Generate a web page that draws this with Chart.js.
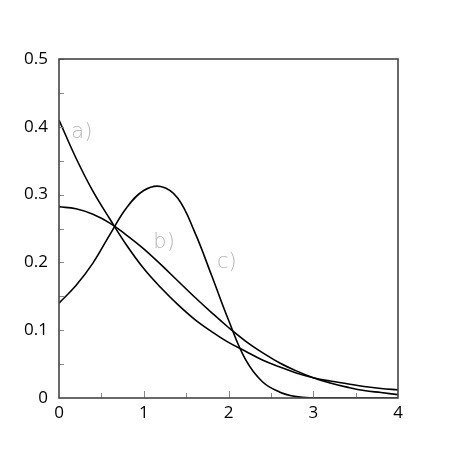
<!DOCTYPE html>
<html>
<head>
<meta charset="utf-8">
<script src="https://cdn.jsdelivr.net/npm/chart.js@4"></script>
<style>
  html, body { margin: 0; padding: 0; background: #fff; }
  #wrap { width: 457px; height: 457px; }
</style>
</head>
<body>
<div id="wrap"><canvas id="chart" width="457" height="457"></canvas></div>
<script>
// x positions shared by all three curves
const xValues = [0, 0.2, 0.4, 0.6, 0.8, 1.0, 1.2, 1.4, 1.6, 1.8, 2.0,
                 2.2, 2.4, 2.6, 2.8, 3.0, 3.2, 3.4, 3.6, 3.8, 4.0];

const curveA = [0.410, 0.354, 0.305, 0.264, 0.225, 0.191, 0.163, 0.138, 0.116, 0.098, 0.082,
                0.069, 0.056, 0.046, 0.037, 0.030, 0.025, 0.021, 0.017, 0.014, 0.012];
const curveB = [0.282, 0.279, 0.271, 0.258, 0.240, 0.220, 0.197, 0.173, 0.149, 0.126, 0.104,
                0.084, 0.067, 0.052, 0.040, 0.030, 0.022, 0.016, 0.011, 0.008, 0.005];
const curveC = [0.140, 0.166, 0.199, 0.241, 0.281, 0.306, 0.312, 0.295, 0.245, 0.181, 0.115,
                0.057, 0.024, 0.009, 0.002, 0.000, 0.000, 0.000, 0.000, 0.000, 0.000];

const curveLabels = ["a)", "b)", "c)"];
const labelX = [0.27, 1.24, 1.98];
const labelY = [0.391, 0.230, 0.200];

const xTicks = [0, 1, 2, 3, 4];
const yTicks = [0, 0.1, 0.2, 0.3, 0.4, 0.5];

const toPoints = ys => xValues.map((x, i) => ({ x, y: ys[i] }));

const lineStyle = {
    borderColor: "#000",
    borderWidth: 1.6,
    pointRadius: 0,
    fill: false,
    tension: 0.4
};

// frame, inner ticks and curve names
const decorations = {
    id: "decorations",
    afterDatasetsDraw(chart) {
        const { ctx, chartArea: a, scales: { x, y } } = chart;
        ctx.save();
        ctx.strokeStyle = "#888";
        ctx.lineWidth = 1;
        for (let v = 0.5; v < 4; v += 0.5) {
            const px = Math.round(x.getPixelForValue(v)) + 0.5;
            const len = Number.isInteger(v) ? 7 : 5;
            ctx.beginPath();
            ctx.moveTo(px, a.bottom);
            ctx.lineTo(px, a.bottom - len);
            ctx.stroke();
        }
        for (let v = 0.05; v < 0.5; v += 0.05) {
            const py = Math.round(y.getPixelForValue(v)) + 0.5;
            ctx.beginPath();
            ctx.moveTo(a.left, py);
            ctx.lineTo(a.left + 5, py);
            ctx.stroke();
        }
        ctx.strokeStyle = "#444";
        ctx.lineWidth = 1.6;
        ctx.strokeRect(a.left, a.top, a.right - a.left, a.bottom - a.top);

        ctx.fillStyle = "#b8b8b8";
        ctx.font = "200 21px 'DejaVu Sans'";
        ctx.textAlign = "center";
        ctx.textBaseline = "middle";
        curveLabels.forEach((t, i) => {
            ctx.fillText(t, x.getPixelForValue(labelX[i]), y.getPixelForValue(labelY[i]));
        });
        ctx.restore();
    }
};

new Chart(document.getElementById("chart"), {
    type: "line",
    data: {
        datasets: [
            { label: "a", data: toPoints(curveA), ...lineStyle },
            { label: "b", data: toPoints(curveB), ...lineStyle },
            { label: "c", data: toPoints(curveC), ...lineStyle }
        ]
    },
    options: {
        responsive: false,
        animation: false,
        layout: { padding: { top: 59, right: 59, left: 0, bottom: 0 } },
        plugins: { legend: { display: false }, tooltip: { enabled: false } },
        scales: {
            x: {
                type: "linear",
                min: 0, max: 4,
                afterBuildTicks: s => { s.ticks = xTicks.map(v => ({ value: v })); },
                afterFit: s => { s.height = 59; },
                grid: { display: false, drawTicks: false },
                border: { display: false },
                ticks: { color: "#000", padding: 5, font: { family: "'Open Sans'", size: 17 } }
            },
            y: {
                min: 0, max: 0.5,
                afterBuildTicks: s => { s.ticks = yTicks.map(v => ({ value: v })); },
                afterFit: s => { s.width = 59; },
                grid: { display: false, drawTicks: false },
                border: { display: false },
                ticks: {
                    color: "#000", padding: 11,
                    font: { family: "'Open Sans'", size: 17 },
                    callback: v => String(+v.toFixed(2))
                }
            }
        }
    },
    plugins: [decorations]
});
</script>
</body>
</html>
